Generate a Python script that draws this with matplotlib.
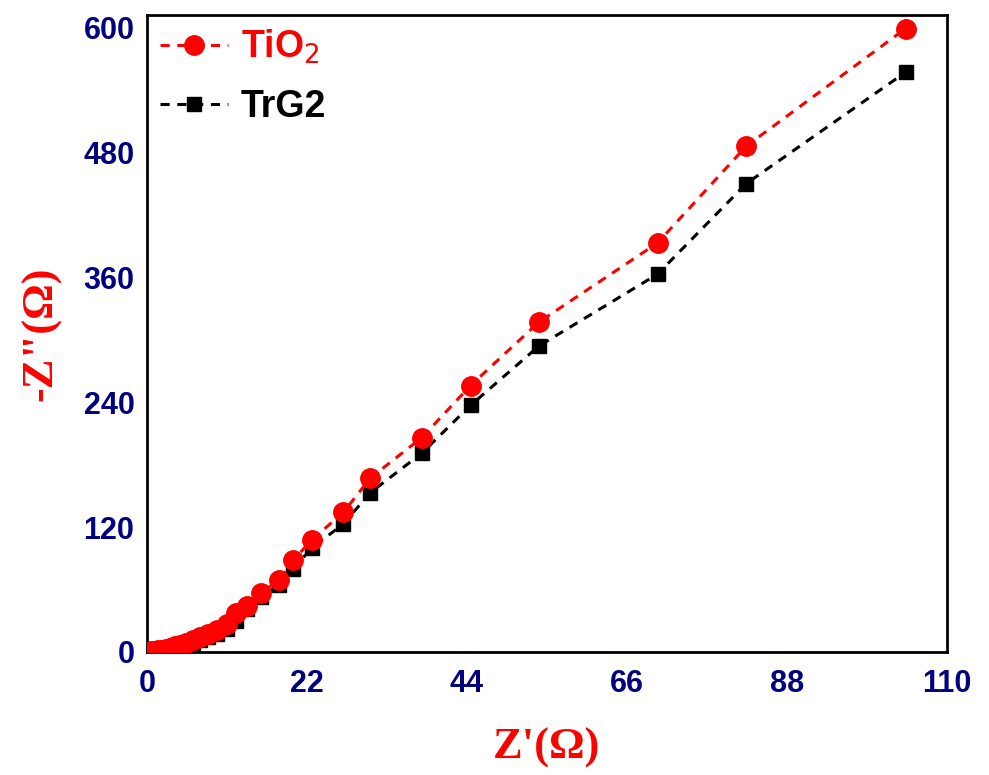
import matplotlib
matplotlib.use("Agg")
import matplotlib.pyplot as plt

# Nyquist data
z_real = [0.6, 1.0, 1.5, 2.0, 2.6, 3.2, 3.9, 4.6, 5.4, 6.3, 7.3, 8.4, 9.6, 11.0,
          12.3, 13.8, 15.7, 18.2, 20.1, 22.7, 27.0, 30.7, 37.8, 44.5, 53.9, 70.2,
          82.4, 104.3]
tio2_imag = [0.5, 1.0, 1.5, 2.2, 3.0, 4.0, 5.5, 7.0, 9.0, 11.0, 14.0, 17.0, 21.0,
             27.0, 37.0, 44.0, 57.0, 69.0, 88.0, 108.0, 134.0, 167.0, 206.0, 256.0,
             317.0, 393.0, 486.0, 599.0]
trg2_imag = [0.3, 0.7, 1.1, 1.6, 2.2, 3.0, 4.0, 5.5, 7.0, 9.0, 11.5, 14.0, 17.5,
             22.0, 30.0, 41.0, 53.0, 64.5, 80.0, 100.0, 123.0, 153.0, 191.0, 237.0,
             294.0, 363.0, 450.0, 557.0]
x_ticks = [0, 22, 44, 66, 88, 110]
y_ticks = [0, 120, 240, 360, 480, 600]

fig = plt.figure(figsize=(9.89, 7.75), dpi=100)
ax = fig.add_axes([0.1486, 0.1588, 0.8089, 0.8218])

ax.plot(z_real, trg2_imag, color="black", linestyle=(0, (3, 2.5)), linewidth=2.2,
        marker="s", markersize=10, label="TrG2", zorder=3)
ax.plot(z_real, tio2_imag, color="red", linestyle=(0, (3, 2.5)), linewidth=2.2,
        marker="o", markersize=14, label="TiO$_2$", zorder=4)

ax.set_xlim(0, 110)
ax.set_ylim(0, 612)
ax.set_xticks(x_ticks)
ax.set_yticks(y_ticks)
ax.tick_params(length=0, labelsize=22, labelcolor="#000080")
ax.tick_params(axis="x", pad=12)
ax.tick_params(axis="y", pad=9)
for lab in ax.get_xticklabels() + ax.get_yticklabels():
    lab.set_fontweight("bold")
    lab.set_family("Liberation Sans")
for sp in ax.spines.values():
    sp.set_linewidth(2)

ax.set_xlabel("Z'(Ω)", color="red", fontsize=32, fontweight="bold",
              family="Liberation Serif", labelpad=21)
ax.set_ylabel('-Z"(Ω)', color="red", fontsize=32, fontweight="bold",
              family="Liberation Serif", labelpad=16)

handles, labels = ax.get_legend_handles_labels()
leg = ax.legend(handles[::-1], labels[::-1], loc="upper left", frameon=False,
                prop={"family": "Liberation Sans", "weight": "bold", "size": 27},
                handlelength=1.8, handletextpad=0.35, borderaxespad=0.15,
                borderpad=0.2, labelspacing=0.6)
leg.get_texts()[0].set_color("red")
leg.get_texts()[1].set_color("black")

fig.savefig("out.png", dpi=100)
